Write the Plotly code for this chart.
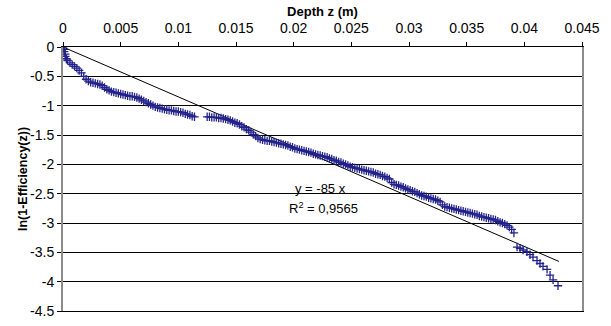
import plotly.graph_objects as go

# ---- data ----
depth_a = [0.0000, 0.0001, 0.0001, 0.0002, 0.0002, 0.0003, 0.0004, 0.0006, 0.0008, 0.0010,
           0.0012, 0.0014, 0.0016, 0.0018, 0.0020, 0.0022, 0.0024, 0.0026, 0.0028, 0.0030,
           0.0032, 0.0034, 0.0036, 0.0038, 0.0040, 0.0042, 0.0044, 0.0046, 0.0048, 0.0050,
           0.0052, 0.0054, 0.0056, 0.0058, 0.0060, 0.0062, 0.0064, 0.0066, 0.0068, 0.0070,
           0.0072, 0.0074, 0.0076, 0.0078, 0.0080, 0.0082, 0.0084, 0.0086, 0.0088, 0.0090,
           0.0092, 0.0094, 0.0096, 0.0098, 0.0100, 0.0102, 0.0104, 0.0106, 0.0108, 0.0110,
           0.0112, 0.0114]
lneff_a = [0.00, -0.04, -0.08, -0.12, -0.16, -0.20, -0.23, -0.27, -0.30, -0.33,
           -0.36, -0.40, -0.44, -0.50, -0.55, -0.58, -0.60, -0.61, -0.62, -0.63,
           -0.64, -0.66, -0.69, -0.72, -0.74, -0.76, -0.77, -0.78, -0.79, -0.80,
           -0.81, -0.82, -0.83, -0.84, -0.84, -0.85, -0.86, -0.88, -0.90, -0.92,
           -0.94, -0.96, -0.98, -1.00, -1.02, -1.03, -1.04, -1.05, -1.06, -1.07,
           -1.08, -1.08, -1.09, -1.10, -1.10, -1.11, -1.12, -1.14, -1.15, -1.16,
           -1.18, -1.19]

depth_b = [0.0125, 0.0127, 0.0129, 0.0131, 0.0133, 0.0135, 0.0137, 0.0139, 0.0141, 0.0143,
           0.0145, 0.0147, 0.0149, 0.0151, 0.0153, 0.0155, 0.0157, 0.0159, 0.0161, 0.0163,
           0.0165, 0.0167, 0.0169, 0.0171, 0.0173, 0.0175, 0.0177, 0.0179, 0.0181, 0.0183,
           0.0185, 0.0187, 0.0189, 0.0191, 0.0193, 0.0195, 0.0197, 0.0199, 0.0201, 0.0203,
           0.0205, 0.0207, 0.0209, 0.0211, 0.0213, 0.0215, 0.0217, 0.0219, 0.0221, 0.0223,
           0.0225, 0.0227, 0.0229, 0.0231, 0.0233, 0.0235, 0.0237, 0.0239, 0.0241, 0.0243,
           0.0245, 0.0247, 0.0249, 0.0251, 0.0253, 0.0255, 0.0257, 0.0259, 0.0261, 0.0263,
           0.0265, 0.0267, 0.0269, 0.0271, 0.0273, 0.0275, 0.0277, 0.0279, 0.0281, 0.0283,
           0.0285, 0.0287, 0.0289, 0.0291, 0.0293, 0.0295, 0.0297, 0.0299, 0.0301, 0.0303,
           0.0305, 0.0307, 0.0309, 0.0311, 0.0313, 0.0315, 0.0317, 0.0319, 0.0321, 0.0323,
           0.0325, 0.0327, 0.0329, 0.0331, 0.0333, 0.0335, 0.0337, 0.0339, 0.0341, 0.0343,
           0.0345, 0.0347, 0.0349, 0.0351, 0.0353, 0.0355, 0.0357, 0.0359, 0.0361, 0.0363,
           0.0365, 0.0367, 0.0369, 0.0371, 0.0373, 0.0375, 0.0377, 0.0379, 0.0381, 0.0383,
           0.0385, 0.0387, 0.0389, 0.0391,
           0.03937, 0.03963, 0.03989, 0.04023, 0.04049, 0.04075, 0.04110, 0.04136, 0.04162,
           0.04197, 0.04223, 0.04249, 0.04292]
lneff_b = [-1.19, -1.19, -1.20, -1.20, -1.20, -1.21, -1.21, -1.22, -1.23, -1.24,
           -1.25, -1.27, -1.29, -1.30, -1.32, -1.35, -1.37, -1.40, -1.42, -1.45,
           -1.49, -1.52, -1.55, -1.57, -1.58, -1.59, -1.60, -1.60, -1.61, -1.62,
           -1.63, -1.64, -1.65, -1.66, -1.67, -1.68, -1.70, -1.71, -1.73, -1.74,
           -1.75, -1.76, -1.77, -1.78, -1.79, -1.80, -1.82, -1.83, -1.84, -1.85,
           -1.86, -1.87, -1.88, -1.90, -1.91, -1.93, -1.94, -1.96, -1.97, -1.99,
           -2.00, -2.02, -2.04, -2.05, -2.06, -2.07, -2.08, -2.09, -2.10, -2.11,
           -2.12, -2.13, -2.14, -2.16, -2.17, -2.18, -2.20, -2.21, -2.23, -2.25,
           -2.31, -2.34, -2.35, -2.36, -2.38, -2.39, -2.41, -2.43, -2.44, -2.46,
           -2.47, -2.49, -2.51, -2.53, -2.54, -2.55, -2.57, -2.58, -2.59, -2.60,
           -2.62, -2.64, -2.69, -2.72, -2.73, -2.74, -2.75, -2.76, -2.77, -2.78,
           -2.79, -2.80, -2.81, -2.82, -2.83, -2.84, -2.85, -2.86, -2.88, -2.89,
           -2.90, -2.91, -2.92, -2.93, -2.94, -2.95, -2.97, -2.99, -3.00, -3.02,
           -3.04, -3.07, -3.11, -3.17,
           -3.41, -3.43, -3.46, -3.49, -3.54, -3.58, -3.64, -3.69, -3.74,
           -3.79, -3.89, -3.97, -4.07]

fit_x = [0.0, 0.0430]
fit_y = [0.0, -3.655]

x_ticks = [0, 0.005, 0.01, 0.015, 0.02, 0.025, 0.03, 0.035, 0.04, 0.045]
x_labels = ["0", "0.005", "0.01", "0.015", "0.02", "0.025", "0.03", "0.035", "0.04", "0.045"]
y_ticks = [0, -0.5, -1, -1.5, -2, -2.5, -3, -3.5, -4, -4.5]
y_labels = ["0", "-0.5", "-1", "-1.5", "-2", "-2.5", "-3", "-3.5", "-4", "-4.5"]

FONT = "Liberation Sans, Arial, sans-serif"

fig = go.Figure()
fig.add_trace(go.Scatter(x=fit_x, y=fit_y, mode="lines",
                         line=dict(color="black", width=1), showlegend=False))
fig.add_trace(go.Scatter(x=depth_a + depth_b, y=lneff_a + lneff_b, mode="markers",
                         marker=dict(symbol="cross-thin", size=6,
                                     line=dict(color="#22228a", width=1.3)),
                         showlegend=False))

fig.add_annotation(x=0.0223, y=-2.42, xref="x", yref="y", text="y = -85 x",
                   showarrow=False, font=dict(family=FONT, size=13, color="black"))
fig.add_annotation(x=0.0226, y=-2.74, xref="x", yref="y", text="R<sup>2</sup> = 0,9565",
                   showarrow=False, font=dict(family=FONT, size=13, color="black"))

fig.update_layout(
    width=611, height=326,
    margin=dict(l=63, r=29, t=47, b=7),
    paper_bgcolor="white", plot_bgcolor="white",
    font=dict(family=FONT, size=14, color="black"),
    xaxis=dict(side="top", range=[0, 0.045], tickvals=x_ticks, ticktext=x_labels,
               showgrid=False, zeroline=False, showline=True, linecolor="black",
               linewidth=1, mirror=True, ticks="outside", ticklen=4, tickcolor="black",
               ticklabeloverflow="allow", ticklabelstandoff=3,
               title=dict(text="<b>Depth z (m)</b>", standoff=0,
                          font=dict(family=FONT, size=13))),
    yaxis=dict(range=[-4.5, 0], tickvals=y_ticks, ticktext=y_labels,
               showgrid=True, gridcolor="black", gridwidth=1, zeroline=False,
               showline=True, linecolor="#8c8c8c", linewidth=2, mirror=True,
               ticks="outside", ticklen=4, tickcolor="black",
               ticklabeloverflow="allow",
               title=dict(text="<b>ln(1-Efficiency(z))</b>", standoff=0,
                          font=dict(family=FONT, size=12.5))),
)

fig.write_html("out.html")
